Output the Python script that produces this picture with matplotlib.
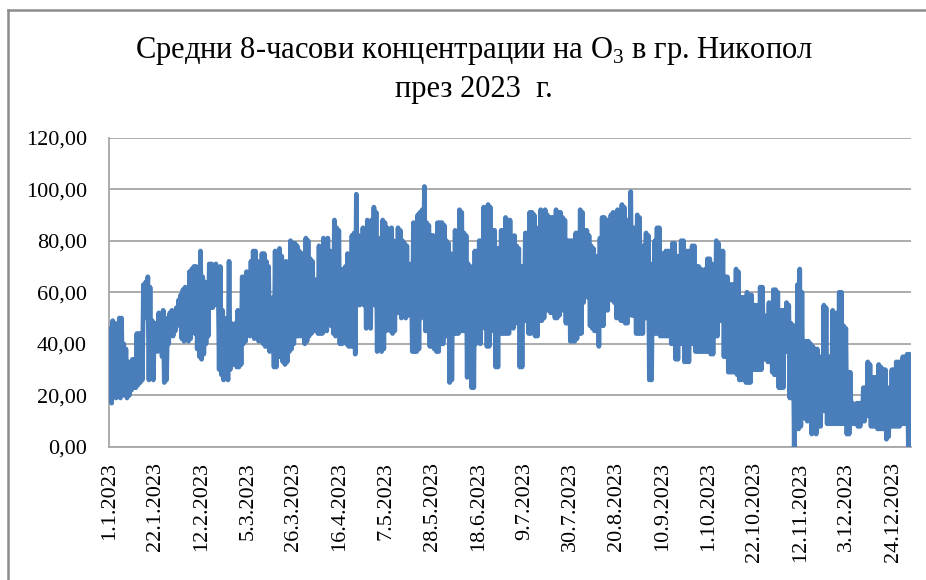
import numpy as np
import pandas as pd
import matplotlib
matplotlib.use("Agg")
import matplotlib.pyplot as plt
from matplotlib.lines import Line2D

plt.rcParams['font.family'] = ['Liberation Serif', 'DejaVu Serif']
plt.rcParams['mathtext.fontset'] = 'custom'
plt.rcParams['mathtext.rm'] = 'Liberation Serif'

# Daily upper (hi) and lower (lo) values of the 8-hour O3 means
hi = [46, 49, 48, 45, 50, 50, 40, 38, 33, 33,
      34, 34, 44, 44, 44, 63, 64, 66, 62, 49,
      48, 48, 52, 49, 53, 50, 49, 52, 53, 52,
      54, 57, 59, 61, 62, 60, 68, 69, 70, 70,
      64, 76, 66, 64, 63, 71, 71, 60, 71, 68,
      70, 53, 50, 48, 72, 48, 45, 48, 53, 52,
      66, 66, 68, 66, 72, 76, 76, 72, 70, 75,
      75, 72, 70, 57, 58, 76, 72, 77, 74, 71,
      72, 71, 80, 79, 79, 78, 76, 75, 75, 81,
      80, 73, 72, 65, 64, 78, 77, 81, 79, 81,
      76, 75, 88, 85, 84, 68, 69, 70, 75, 74,
      82, 83, 98, 82, 81, 85, 84, 88, 86, 88,
      93, 91, 81, 80, 88, 87, 85, 84, 85, 80,
      79, 85, 84, 80, 79, 78, 70, 71, 87, 86,
      90, 91, 92, 101, 87, 86, 82, 82, 81, 87,
      87, 87, 86, 80, 79, 75, 74, 84, 83, 92,
      91, 83, 82, 71, 70, 59, 76, 76, 80, 80,
      93, 92, 94, 93, 84, 84, 77, 77, 84, 84,
      89, 88, 88, 81, 82, 78, 77, 70, 70, 83,
      83, 91, 91, 90, 85, 84, 92, 91, 92, 90,
      89, 89, 89, 92, 91, 91, 89, 88, 80, 80,
      80, 80, 83, 83, 92, 91, 84, 84, 82, 78,
      77, 74, 74, 81, 89, 89, 88, 88, 90, 91,
      90, 92, 91, 94, 93, 88, 88, 99, 85, 85,
      90, 89, 78, 78, 83, 82, 71, 71, 80, 85,
      85, 75, 75, 76, 76, 76, 79, 79, 74, 74,
      80, 80, 76, 76, 76, 78, 78, 70, 70, 69,
      68, 69, 73, 73, 71, 70, 80, 79, 76, 76,
      66, 66, 63, 63, 63, 69, 68, 58, 58, 58,
      60, 59, 59, 55, 55, 55, 62, 62, 51, 50,
      56, 55, 61, 61, 60, 53, 53, 53, 56, 55,
      48, 47, 47, 63, 69, 60, 41, 41, 41, 40,
      39, 38, 38, 35, 35, 55, 54, 35, 35, 53,
      52, 52, 60, 60, 47, 46, 29, 29, 17, 16,
      17, 17, 17, 23, 23, 33, 32, 27, 27, 27,
      32, 31, 30, 30, 23, 23, 30, 30, 33, 33,
      33, 35, 35, 36, 36]

lo = [18, 17, 20, 19, 22, 19, 20, 22, 19, 20,
      22, 23, 23, 24, 25, 26, 50, 52, 26, 27,
      26, 40, 37, 38, 35, 25, 26, 40, 44, 43,
      45, 49, 47, 42, 41, 43, 41, 42, 45, 44,
      38, 35, 34, 36, 40, 43, 54, 54, 55, 56,
      30, 28, 26, 30, 26, 30, 32, 32, 31, 31,
      32, 40, 41, 45, 43, 45, 42, 43, 41, 43,
      40, 39, 39, 37, 38, 31, 31, 35, 35, 33,
      32, 33, 37, 38, 40, 43, 43, 43, 43, 40,
      41, 43, 44, 45, 46, 44, 44, 44, 45, 45,
      48, 47, 44, 43, 44, 40, 40, 41, 40, 39,
      39, 39, 36, 56, 55, 56, 55, 46, 47, 46,
      56, 55, 37, 38, 37, 38, 45, 46, 45, 44,
      45, 52, 52, 50, 51, 50, 51, 52, 37, 37,
      37, 38, 50, 52, 45, 45, 39, 39, 38, 37,
      37, 40, 40, 43, 43, 25, 26, 44, 44, 44,
      45, 45, 45, 27, 28, 23, 23, 40, 41, 40,
      47, 46, 39, 39, 45, 45, 31, 31, 44, 44,
      44, 44, 44, 47, 46, 48, 48, 31, 31, 49,
      49, 44, 44, 45, 43, 43, 49, 49, 50, 53,
      53, 52, 52, 50, 50, 51, 53, 53, 48, 48,
      41, 41, 41, 42, 44, 44, 56, 60, 58, 47,
      46, 45, 45, 39, 47, 47, 53, 53, 57, 57,
      56, 50, 51, 49, 49, 48, 48, 52, 51, 51,
      44, 44, 44, 44, 50, 50, 26, 26, 44, 44,
      44, 43, 43, 43, 43, 43, 40, 40, 34, 34,
      40, 40, 33, 33, 33, 40, 40, 37, 37, 37,
      37, 37, 37, 37, 36, 36, 43, 43, 49, 49,
      35, 35, 29, 29, 29, 29, 28, 26, 26, 27,
      25, 25, 25, 30, 30, 30, 30, 30, 34, 34,
      33, 33, 29, 28, 28, 23, 23, 23, 37, 37,
      19, 19, 0, 7, 7, 8, 12, 11, 10, 11,
      5, 6, 5, 8, 8, 14, 14, 9, 9, 9,
      9, 9, 9, 9, 9, 9, 5, 5, 9, 9,
      9, 8, 8, 10, 10, 12, 12, 8, 8, 8,
      7, 7, 7, 7, 3, 4, 8, 8, 8, 8,
      8, 9, 9, 9, 0]

tick_dates = pd.date_range("2023-01-01", "2023-12-31", freq="21D")
tick_labels = [f"{d.day}.{d.month}.{d.year}" for d in tick_dates]
y_ticks = [0, 20, 40, 60, 80, 100, 120]

# build the series: each day drawn as low value then high value (half a day apart)
n = len(hi)
days = np.arange(n)
x = np.empty(2 * n)
y = np.empty(2 * n)
x[0::2] = days
x[1::2] = days + 0.5
y[0::2] = lo
y[1::2] = hi

fig = plt.figure(figsize=(9.26, 5.8), dpi=100)
ax = fig.add_axes([109 / 926, 1 - 447 / 580, (911 - 109) / 926, (447 - 137.5) / 580])

ax.plot(x, y, color="#4a7ebb", linewidth=3.4, solid_joinstyle="round",
        solid_capstyle="round", zorder=3)

ax.set_xlim(-0.2, 365.2)
ax.set_ylim(0, 120)
ax.set_yticks(y_ticks)
ax.set_yticklabels([f"{v:.2f}".replace(".", ",") for v in y_ticks], fontsize=16)
tick_pos = [(d - tick_dates[0]).days for d in tick_dates]
ax.set_xticks(tick_pos)
ax.set_xticklabels(tick_labels, rotation=90, fontsize=16, va="top", ha="center")
ax.tick_params(axis="both", length=0)
ax.tick_params(axis="y", pad=16)
ax.tick_params(axis="x", pad=11)

ax.grid(axis="y", color="#a6a6a6", linewidth=1.3, zorder=0)
for s in ["top", "right"]:
    ax.spines[s].set_visible(False)
for s in ["left", "bottom"]:
    ax.spines[s].set_color("#a6a6a6")
    ax.spines[s].set_linewidth(1.3)

fig.text(474 / 926, 1 - 51 / 580, "Средни 8-часови концентрации на O$_\\mathregular{3}$ в гр. Никопол",
         ha="center", va="center", fontsize=22)
fig.text(474 / 926, 1 - 89 / 580, "през 2023  г.", ha="center", va="center", fontsize=22)

# chart area border (top and left)
fig.add_artist(Line2D([8 / 926, 8 / 926], [0, 1 - 10 / 580], transform=fig.transFigure,
                      color="#8c8c8c", linewidth=1.8))
fig.add_artist(Line2D([8 / 926, 1], [1 - 10 / 580, 1 - 10 / 580], transform=fig.transFigure,
                      color="#8c8c8c", linewidth=1.8))

fig.savefig("out.png", dpi=100)
